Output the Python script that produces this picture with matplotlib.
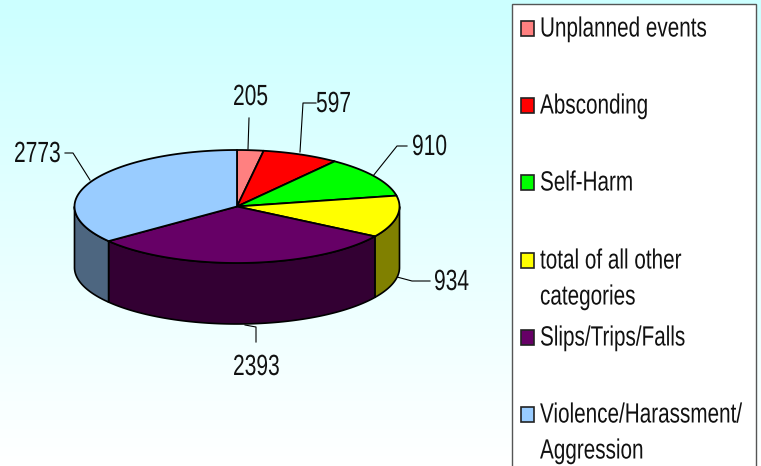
import numpy as np
import matplotlib
matplotlib.use('Agg')
import matplotlib.pyplot as plt
import matplotlib.patheffects as pe
from matplotlib.patches import Polygon, Rectangle
from matplotlib.transforms import Affine2D

categories = ['Unplanned events', 'Absconding', 'Self-Harm', 'total of all other\ncategories',
              'Slips/Trips/Falls', 'Violence/Harassment/\nAggression']
values = [205, 597, 910, 934, 2393, 2773]
top_colors = ['#FF8080', '#FF0000', '#00FF00', '#FFFF00', '#660066', '#99CCFF']
side_colors = ['#804040', '#800000', '#008000', '#808000', '#330033', '#4D6680']

# pie geometry in pixels
cx, cy = 237, 206.5
rx, ry = 162.5, 56.5
depth = 61


# squeezes glyphs sideways, the reference font is a narrow one
class Narrow(pe.AbstractPathEffect):
    def __init__(self, sx):
        super().__init__()
        self.sx = sx

    def draw_path(self, renderer, gc, tpath, affine, rgbFace=None):
        renderer.draw_path(gc, tpath, Affine2D().scale(self.sx, 1) + affine, rgbFace)


def rim(a, b, drop=0):
    t = np.radians(np.linspace(a, b, max(int(b - a) * 2, 2)))
    return np.column_stack([cx + rx * np.sin(t), cy + drop - ry * np.cos(t)])


plt.rcParams['font.family'] = ['Liberation Sans', 'DejaVu Sans']
fig = plt.figure(figsize=(7.61, 4.66), dpi=100)
ax = fig.add_axes([0, 0, 1, 1])
ax.set_xlim(0, 761)
ax.set_ylim(466, 0)
ax.axis('off')

# background gradient
grad = np.linspace(0, 1, 256).reshape(-1, 1, 1)
top = np.array([204, 255, 255]) / 255
bg = top + (1 - top) * grad
ax.imshow(bg, extent=[0, 761, 466, 0], aspect='auto', zorder=0)

# slice angles, clockwise from 12 o'clock
edges = np.concatenate([[0], np.cumsum(values)]) / sum(values) * 360

# side walls, only the front half shows
for i in range(len(values)):
    a, b = max(edges[i], 90), min(edges[i + 1], 270)
    if b > a:
        wall = np.vstack([rim(a, b), rim(a, b, depth)[::-1]])
        ax.add_patch(Polygon(wall, fc=side_colors[i], ec='black', lw=1.2, zorder=2))

# top face
for i in range(len(values)):
    face = np.vstack([[cx, cy], rim(edges[i], edges[i + 1])])
    ax.add_patch(Polygon(face, fc=top_colors[i], ec='black', lw=1.3, zorder=3, joinstyle='round'))

# value labels (left edge, centre y) and leader lines
label_pos = [(233, 97), (316, 104), (412, 147), (434, 282), (233, 367), (14, 154)]
leaders = [
    [(249, 118), (248, 149)],
    [(316, 103), (303, 103), (300, 152)],
    [(407, 146), (397, 146), (373, 176)],
    [(430, 281), (412, 281), (397, 277)],
    [(256, 342), (256, 327), (245, 325)],
    [(65, 153), (73, 153), (90, 180)],
]
for v, p, l in zip(values, label_pos, leaders):
    ax.text(p[0], p[1], str(v), fontsize=21, ha='left', va='center', color='#111111', zorder=5,
            path_effects=[Narrow(0.72)])
    l = np.array(l)
    ax.plot(l[:, 0], l[:, 1], color='black', lw=0.8, zorder=1.5)

# legend box runs off the bottom of the figure
ax.add_patch(Rectangle((512, 4), 244, 480, fc='white', ec='#555555', lw=1.0, zorder=2))
legend_y = [28, 105, 182, 260, 337, 414]
for name, c, y in zip(categories, top_colors, legend_y):
    ax.add_patch(Rectangle((520.5, y - 7.5), 13, 15, fc=c, ec='#222222', lw=1.2, zorder=4))
    ax.text(540, y - 11.5, name, fontsize=20, ha='left', va='top', color='#111111',
            linespacing=1.5, zorder=5, path_effects=[Narrow(0.745)])

fig.savefig('out.png', dpi=100)
